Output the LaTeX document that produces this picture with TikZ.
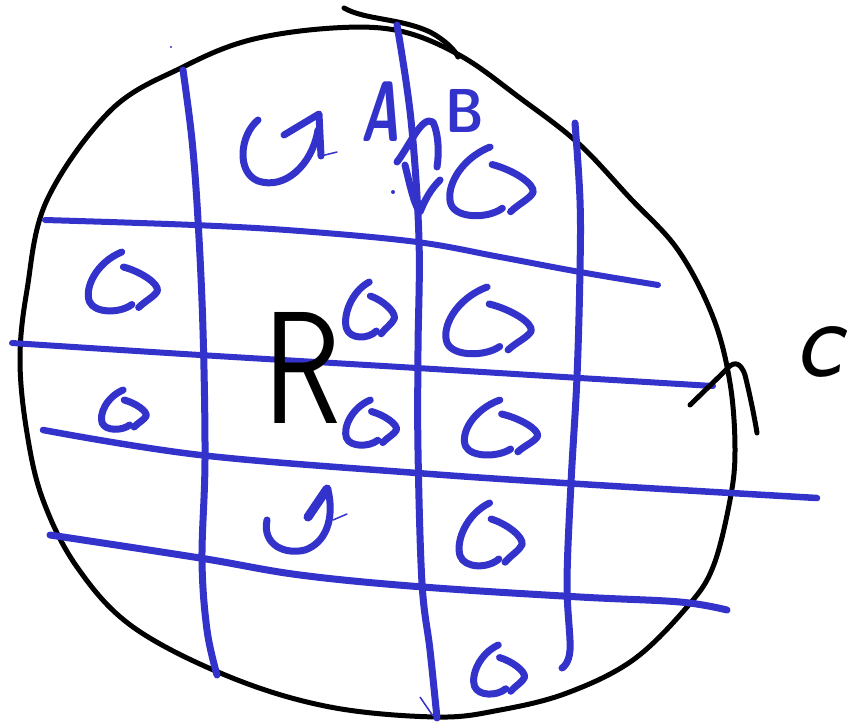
\documentclass[tikz,border=0pt]{standalone}
\usepackage{fontspec}
\definecolor{pen}{RGB}{51,51,204}
\tikzset{
  gridln/.style={draw=pen, line width=7pt, line cap=round, line join=round},
  glyphln/.style={draw=pen, line width=7pt, line cap=round, line join=round},
  blobln/.style={draw=black, line width=5pt, line cap=round, line join=round},
}
\newcommand\circarr[4]{%
  \begin{scope}[shift={(#1,#2)}, xscale=#3, yscale=#4]
    \draw[glyphln] (0.05,-1) .. controls (-0.7,-0.65) and (-1.05,0.2) .. (-0.9,0.65)
      .. controls (-0.75,1.05) and (0.0,1.05) .. (0.35,0.75);
    \draw[glyphln] (0.1,-0.5) .. controls (0.6,-0.35) and (1.15,0.05) .. (1.1,0.3)
      .. controls (1.0,0.5) and (0.75,0.62) .. (0.55,0.85);
  \end{scope}}
\begin{document}
\begin{tikzpicture}[x=1pt, y=-1pt]
\useasboundingbox (0,0) rectangle (865,726);
\fill[white] (0,0) rectangle (865,726);

% blob outline
\draw[blobln] plot[smooth cycle, tension=0.6] coordinates {
  (20,360) (27,290) (47,200) (111,110) (183,67) (250,40) (333,28) (400,31)
  (461,56) (520,98) (578,143) (630,198) (678,250) (713,317) (730,383)
  (735,450) (730,500) (713,567) (687,607) (633,660) (567,693) (500,710)
  (437,717) (330,707) (230,677) (133,627) (77,567) (43,500) (27,433)};
% extra top stroke
\draw[black, line width=5pt, line cap=round] (344,8) .. controls (365,20) and (400,18) .. (430,32)
  .. controls (445,40) and (455,50) .. (458,57);

% vertical grid lines
\draw[gridln] plot[smooth, tension=0.6] coordinates {(183,70) (192,140) (198,220) (203,330) (205,460) (202,560) (207,630) (217,675)};
\draw[gridln] plot[smooth, tension=0.6] coordinates {(397,25) (411,120) (419,240) (418,350) (418,450) (422,583) (430,650) (437,718)};
\draw[pen, line width=1.5pt] (420,697) -- (433,716);
\draw[gridln] plot[smooth, tension=0.6] coordinates {(575,123) (580,200) (580,270) (577,377) (571,483) (567,583) (570,650) (562,668)};

% horizontal grid lines
\draw[gridln, line width=6pt] plot[smooth, tension=0.6] coordinates {(45,220) (194,225) (300,231) (417,242) (500,257) (580,272) (658,285)};
\draw[gridln, line width=6pt] plot[smooth, tension=0.6] coordinates {(12,343) (200,355) (417,368) (580,378) (713,386)};
\draw[gridln, line width=6.5pt] plot[smooth, tension=0.6] coordinates {(43,430) (200,455) (417,473) (580,484) (817,498)};
\draw[gridln] plot[smooth, tension=0.6] coordinates {(50,535) (200,558) (300,575) (423,587) (580,597) (680,602) (727,610)};

% circulation glyphs
% top-left cell (custom)
\draw[glyphln] (258,120) .. controls (240,135) and (236,172) .. (258,181)
  .. controls (285,190) and (312,165) .. (318,130);
\draw[glyphln] (284,135) -- (319,114) -- (321,156);
\draw[pen, line width=1.5pt, line cap=round] (321,156) -- (337,152);
% top near C
\circarr{488}{182}{41}{35}
% row 1
\circarr{120}{282}{34}{30}
\circarr{368}{310}{24}{28}
\circarr{485}{321}{42}{34}
% row 2
\circarr{122}{410}{22}{20}
\circarr{369}{423}{25}{23}
\circarr{498}{428}{36}{28}
% row 3
\draw[glyphln] (267,520) .. controls (262,545) and (285,555) .. (305,550)
  .. controls (325,543) and (335,520) .. (328,490);
\draw[glyphln, line width=9pt] (308,517) -- (327,489);
\draw[pen, line width=1.5pt, line cap=round] (333,520) -- (347,514);
\circarr{488}{535}{31}{32}
% row 4
\circarr{497}{670}{25}{25}

% scribble near the middle line at the top
\draw[glyphln] (397,162) .. controls (410,145) and (422,115) .. (433,122)
  .. controls (439,135) and (439,155) .. (437,167);
\draw[glyphln] (405,165) .. controls (410,185) and (414,205) .. (420,212)
  .. controls (425,200) and (430,190) .. (440,180);
\fill[pen] (393,192) circle (2);
\fill[pen] (171,47) circle (1.2);

% labels
\node[text=pen, font=\sffamily\bfseries\itshape\fontsize{86}{86}\selectfont, xscale=0.6, inner sep=0] (A) at (380,112) {A};
\node[text=pen, font=\sffamily\bfseries\fontsize{62}{62}\selectfont, xscale=0.85, inner sep=0] (B) at (465,111) {B};
\node[font=\sffamily\fontsize{160}{160}\selectfont, xscale=0.8, inner sep=0] (R) at (302,368) {R};
\node[font=\sffamily\itshape\fontsize{113}{113}\selectfont, inner sep=0] (c) at (818,352) {c};

% hook arrow on the boundary
\draw[black, line width=5pt, line cap=round, line join=round] (690,405) -- (726,370)
  .. controls (732,362) and (740,360) .. (745,375) .. controls (750,395) and (755,420) .. (757,433);
\end{tikzpicture}
\end{document}
